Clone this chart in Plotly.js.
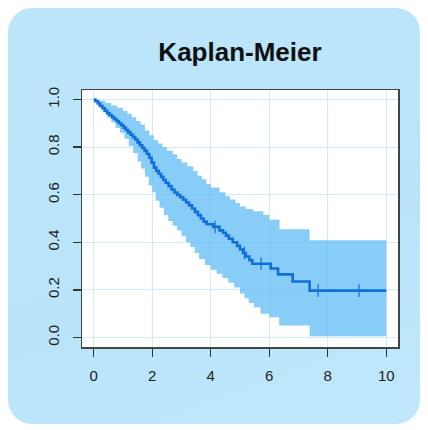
<!DOCTYPE html>
<html>
<head>
<meta charset="utf-8">
<script src="https://cdn.plot.ly/plotly-3.0.1.min.js"></script>
<style>
  html, body { margin:0; padding:0; background:#ffffff; width:428px; height:430px; overflow:hidden; }
  #card { position:absolute; left:8px; top:8px; width:412px; height:416px; border-radius:24px;
          background: linear-gradient(160deg, #bde6fa 0%, #b9e4fa 60%, #bfe8fb 100%); }
  #chart { position:absolute; left:0; top:0; width:428px; height:430px; }
</style>
</head>
<body>
<div id="card"></div>
<div id="chart"></div>
<script>
// Kaplan-Meier estimate (step function)
const kmTime = [0,0.06,0.14,0.22,0.3,0.38,0.46,0.54,0.62,0.7,0.78,0.86,0.94,1.02,1.1,1.18,1.26,1.34,1.42,1.5,1.58,1.66,1.74,1.82,1.9,1.98,2.06,2.14,2.22,2.3,2.38,2.46,2.56,2.66,2.76,2.86,2.96,3.06,3.16,3.26,3.36,3.46,3.56,3.66,3.76,3.86,4.08,4.3,4.42,4.52,4.62,4.75,4.9,5.0,5.1,5.2,5.32,5.42,6.05,6.3,6.8,7.38,10];
const kmSurv = [1,0.993,0.983,0.973,0.963,0.953,0.943,0.935,0.926,0.918,0.909,0.9,0.892,0.882,0.872,0.862,0.852,0.842,0.832,0.82,0.808,0.796,0.784,0.771,0.755,0.735,0.714,0.70,0.688,0.675,0.662,0.65,0.636,0.622,0.609,0.599,0.589,0.579,0.567,0.555,0.542,0.528,0.514,0.5,0.487,0.476,0.465,0.45,0.44,0.428,0.415,0.40,0.385,0.37,0.355,0.34,0.325,0.31,0.29,0.265,0.235,0.197,0.197];

// Confidence band
const upTime = [0,0.2,0.4,0.6,0.8,1.0,1.15,1.3,1.45,1.6,1.75,1.9,2.05,2.2,2.35,2.5,2.7,2.85,3.0,3.2,3.4,3.55,3.7,3.85,4.0,4.3,4.5,4.65,4.85,5.0,5.2,5.45,5.8,6.0,6.35,7.38,10];
const upSurv = [1,0.995,0.985,0.975,0.965,0.952,0.94,0.925,0.91,0.895,0.87,0.85,0.83,0.815,0.8,0.785,0.77,0.75,0.735,0.72,0.7,0.68,0.665,0.645,0.63,0.61,0.595,0.58,0.565,0.55,0.54,0.53,0.515,0.495,0.455,0.409,0.409];
const loTime = [0,0.15,0.3,0.45,0.6,0.75,0.9,1.05,1.2,1.35,1.5,1.62,1.75,1.88,2.0,2.12,2.25,2.4,2.55,2.7,2.85,3.0,3.15,3.3,3.45,3.6,3.8,4.0,4.2,4.4,4.6,4.8,5.0,5.15,5.3,5.48,5.7,6.0,6.34,7.38,10];
const loSurv = [1,0.97,0.945,0.925,0.905,0.88,0.86,0.835,0.805,0.775,0.74,0.71,0.675,0.64,0.61,0.575,0.545,0.515,0.49,0.47,0.45,0.425,0.4,0.38,0.355,0.33,0.305,0.285,0.268,0.25,0.23,0.21,0.185,0.165,0.145,0.127,0.1,0.085,0.05,0.005,0.005];

// Censoring marks
const censTime = [4.15,5.15,5.72,7.67,9.07];
const censSurv = [0.465,0.355,0.31,0.197,0.197];

const xTicks = [0,2,4,6,8,10];
const yTicks = [0,0.2,0.4,0.6,0.8,1.0];
const yTickText = ['0.0','0.2','0.4','0.6','0.8','1.0'];

const lineColor = '#1170d8';

const traces = [
  { x: loTime, y: loSurv, mode:'lines', line:{shape:'hv', width:0, color:'rgba(0,0,0,0)'}, hoverinfo:'skip', showlegend:false },
  { x: upTime, y: upSurv, mode:'lines', line:{shape:'hv', width:0, color:'rgba(0,0,0,0)'}, fill:'tonexty',
    fillcolor:'rgba(95,188,246,0.75)', hoverinfo:'skip', showlegend:false },
  { x: kmTime, y: kmSurv, mode:'lines', line:{shape:'hv', width:2.6, color:lineColor}, showlegend:false },
  { x: censTime, y: censSurv, mode:'markers', marker:{symbol:'line-ns-open', size:9, color:lineColor, line:{width:1.2, color:lineColor}}, showlegend:false }
];

const axisFont = {family:'"Liberation Sans", Arial, sans-serif', size:15, color:'#222222'};

const layout = {
  width:428, height:430,
  margin:{l:82, r:30, t:90, b:83},
  paper_bgcolor:'rgba(0,0,0,0)',
  plot_bgcolor:'#ffffff',
  title:{text:'<b>Kaplan-Meier</b>', x:0.5, xref:'paper', xanchor:'center', y:1-52/430, yref:'container', yanchor:'middle',
         font:{family:'"Liberation Sans", Arial, sans-serif', size:26, color:'#111111'}},
  xaxis:{range:[-0.4,10.4], tickvals:xTicks, ticktext:xTicks.map(String), ticks:'outside', ticklen:8, tickwidth:1.3, tickcolor:'#333333',
         showline:true, mirror:true, linecolor:'#444444', linewidth:1.5, showgrid:true, gridcolor:'#d4ebf7', gridwidth:1,
         zeroline:false, tickfont:axisFont, ticklabelstandoff:6},
  yaxis:{range:[-0.04,1.04], tickvals:yTicks, ticktext:yTickText, tickangle:-90, ticks:'outside', ticklen:8, tickwidth:1.3, tickcolor:'#333333',
         showline:true, mirror:true, linecolor:'#444444', linewidth:1.5, showgrid:true, gridcolor:'#d4ebf7', gridwidth:1,
         zeroline:false, tickfont:axisFont, ticklabelstandoff:8},
  showlegend:false
};

Plotly.newPlot('chart', traces, layout, {displayModeBar:false, staticPlot:true});
</script>
</body>
</html>
